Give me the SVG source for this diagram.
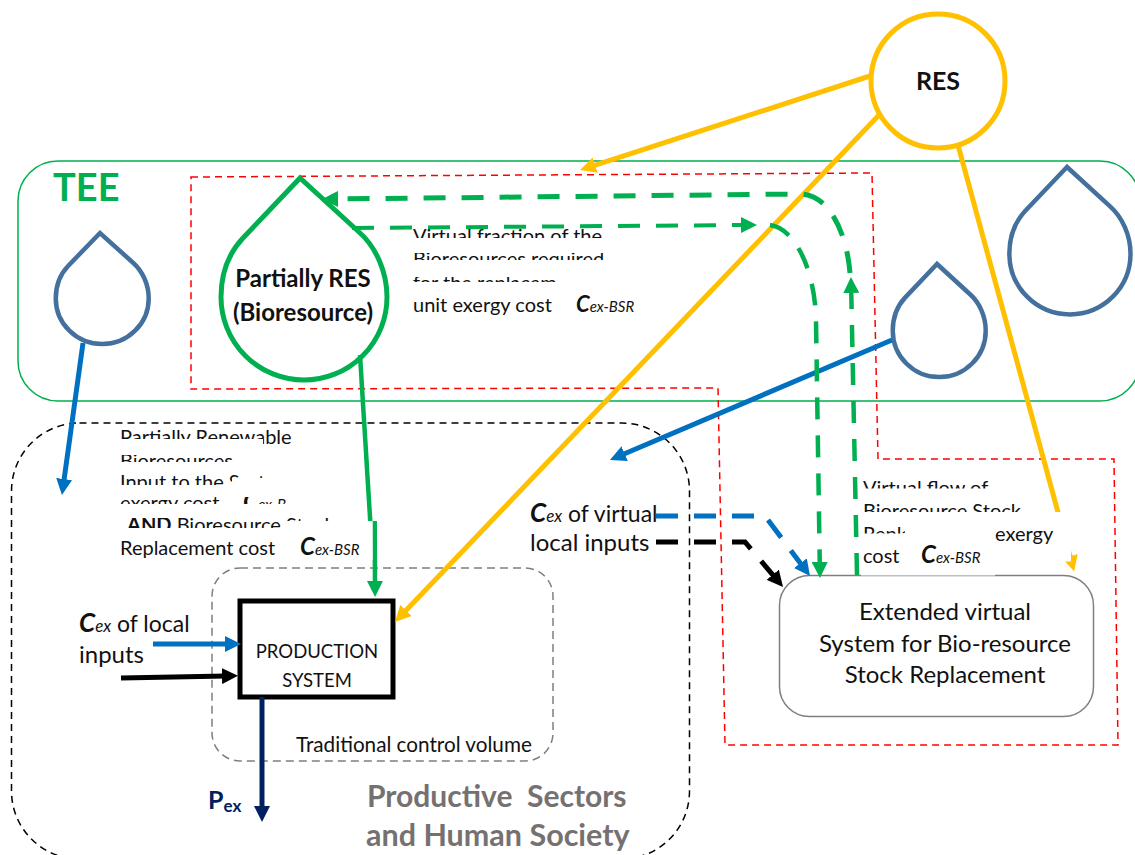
<svg xmlns="http://www.w3.org/2000/svg" width="1135" height="855" viewBox="0 0 1135 855">
<style>
text{font-family:Lato,"Open Sans","Liberation Sans",sans-serif;fill:#111}
.t{font-size:20px}.m{font-size:24px}.b{font-weight:700}
.c{font-weight:700;font-style:italic}.s{font-style:italic}
.line{fill:none;stroke-linejoin:miter}
.yel{stroke:#ffc000;stroke-width:5}.blu{stroke:#0070c0;stroke-width:5}.grn{stroke:#00b050;stroke-width:4.5}
.blk{stroke:#000;stroke-width:5}.nav{stroke:#002060;stroke-width:5}
.dsh{stroke-dasharray:22 16}
.drop{fill:#fff;stroke:#44709d;stroke-width:4.5;vector-effect:non-scaling-stroke}
.mask{fill:#fff}
</style>
<defs>
<path id="dropShape" class="drop" d="M0 0L-57 60C-72 76-79 97-79 119A83 83 0 0 0 87 119C87 94 76 69 59 54Z"/>
<marker id="aY" markerUnits="userSpaceOnUse" markerWidth="16" markerHeight="16" viewBox="0 0 16 16" refX="4" refY="8" orient="auto"><path d="M0 0L16 8L0 16Z" fill="#ffc000"/></marker>
<marker id="aB" markerUnits="userSpaceOnUse" markerWidth="16" markerHeight="16" viewBox="0 0 16 16" refX="4" refY="8" orient="auto"><path d="M0 0L16 8L0 16Z" fill="#0070c0"/></marker>
<marker id="aG" markerUnits="userSpaceOnUse" markerWidth="16" markerHeight="16" viewBox="0 0 16 16" refX="4" refY="8" orient="auto"><path d="M0 0L16 8L0 16Z" fill="#00b050"/></marker>
<marker id="aK" markerUnits="userSpaceOnUse" markerWidth="16" markerHeight="16" viewBox="0 0 16 16" refX="4" refY="8" orient="auto"><path d="M0 0L16 8L0 16Z" fill="#000"/></marker>
<marker id="aN" markerUnits="userSpaceOnUse" markerWidth="16" markerHeight="16" viewBox="0 0 16 16" refX="4" refY="8" orient="auto"><path d="M0 0L16 8L0 16Z" fill="#002060"/></marker>
</defs>
<g id="tee"><rect x="18" y="161" width="1122" height="240" rx="40" fill="none" stroke="#00b050" stroke-width="1.5"/><text x="53" y="201" class="b" font-size="38" style="fill:#00b050">TEE</text></g>
<path id="red-boundary" d="M191 177L872 173L878 459L1114 459L1118 745L725 745L718 388L191 389Z" fill="none" stroke="#f00" stroke-width="1.5" stroke-dasharray="7 5"/>
<rect id="society-boundary" x="11.500" y="423" width="678" height="436" rx="68" fill="none" stroke="#000" stroke-width="1.500" stroke-dasharray="7 5"/>
<rect id="control-volume" x="212" y="568" width="341" height="193" rx="28" fill="none" stroke="#7f7f7f" stroke-width="1.500" stroke-dasharray="8 5"/>
<g id="drop-left"><use href="#dropShape" transform="translate(100 233) scale(.56 .55)"/></g>
<g id="drop-right"><use href="#dropShape" transform="translate(1067 167) scale(.73)"/></g>
<g id="drop-mid"><use href="#dropShape" transform="translate(937 264) scale(.56)"/></g>
<g id="partial-res"><path d="M300 178L243 238C228 254 221 275 221 297A83 83 0 0 0 387 297C387 272 376 247 359 232Z" fill="#fff" stroke="#00b050" stroke-width="5"/></g>
<g id="res"><circle cx="938" cy="81" r="67" fill="#fff" stroke="#ffc000" stroke-width="5"/></g>
<g id="production"><rect x="240" y="601" width="153" height="96" fill="#fff" stroke="#000" stroke-width="5"/></g>
<g id="extended"><rect x="779.500" y="575.500" width="314" height="141" rx="30" fill="#fff" stroke="#7f7f7f" stroke-width="1.500"/></g>
<g id="connectors">
<path class="line yel" d="M870 76L591.400 166.300" marker-end="url(#aY)"/>
<path class="line yel" d="M880 114L403.300 613.300" marker-end="url(#aY)"/>
<path class="line yel" d="M958 145L1071 560" marker-end="url(#aY)"/>
<path class="line blu" d="M83 343L63.600 483" marker-end="url(#aB)"/>
<path class="line blu" d="M892 340L621 455.300" marker-end="url(#aB)"/>
<path class="line grn" d="M360 355L370.300 522"/>
<path class="line grn" d="M374.700 521L375 585" marker-end="url(#aG)"/>
<path class="line blu" d="M153 644L229 644" marker-end="url(#aB)"/>
<path class="line blk" d="M121 678L226 676" marker-end="url(#aK)"/>
<path class="line nav" d="M262 697L262 810" marker-end="url(#aN)"/>
<path class="line blu dsh" d="M656 516L765 516L802.800 566.400" marker-end="url(#aB)"/>
<path class="line blk dsh" d="M656 542L745 542L775.300 577.800" marker-end="url(#aK)"/>
<path class="line grn dsh" d="M857 575L851.200 289" marker-end="url(#aG)"/>
<path class="line grn dsh" d="M850 273C847 235 830 194 800 194L334 199" style="stroke-width:5" marker-end="url(#aG)"/>
<path class="line grn dsh" d="M352 228L745 225" style="stroke-width:4" marker-end="url(#aG)"/>
<path class="line grn dsh" d="M770 225C795 228 815 270 816 320L819.800 566" marker-end="url(#aG)"/>
</g>
<g id="covered-notes" class="t">
<text x="120" y="444">Partially Renewable</text><text x="120" y="468">Bioresources</text><text x="120" y="489">Input to the System</text>
<text x="120" y="510">exergy cost</text><text x="243" y="510"><tspan class="c" font-size="24">C</tspan><tspan class="s" font-size="15">ex-B</tspan></text>
<text x="127" y="532"><tspan class="b">AND</tspan> Bioresource Stock</text>
<text x="413" y="243">Virtual fraction of the</text><text x="413" y="266">Bioresources required</text><text x="413" y="290">for the replacement</text>
<text x="863" y="495">Virtual flow of</text><text x="863" y="518">Bioresource Stock</text><text x="863" y="541">Replacement</text>
</g>
<g id="masks" class="mask">
<rect x="118" y="439" width="145" height="16"/><rect x="118" y="462" width="190" height="13"/><rect x="232" y="478" width="80" height="8"/><rect x="118" y="485" width="190" height="12"/><rect x="118" y="504" width="200" height="14"/><rect x="285" y="521" width="87.500" height="7"/><rect x="118" y="528" width="254.500" height="32"/>
<rect x="411" y="238" width="220" height="15"/><rect x="411" y="260" width="220" height="17"/><rect x="411" y="282" width="220" height="15"/><rect x="557" y="270" width="70" height="14"/>
<rect x="861" y="488.500" width="170" height="14"/><rect x="861" y="512" width="210" height="14"/><rect x="905" y="526" width="166" height="8"/><rect x="861" y="533.500" width="134" height="42"/><rect x="995" y="533.500" width="76" height="28"/>
</g>
<g id="labels">
<text x="938" y="90" text-anchor="middle" class="b" font-size="25">RES</text>
<text x="303" y="287" text-anchor="middle" class="b m">Partially RES</text>
<text x="303" y="321" text-anchor="middle" class="b m">(Bioresource)</text>
<text x="413" y="312" class="t">unit exergy cost</text>
<text x="576" y="312"><tspan class="c" font-size="22">C</tspan><tspan class="s" font-size="15">ex-BSR</tspan></text>
<text x="120" y="555" class="t">Replacement cost</text>
<text x="300" y="555"><tspan class="c" font-size="24">C</tspan><tspan class="s" font-size="15">ex-BSR</tspan></text>
<text x="995" y="541" class="t">exergy</text>
<text x="863" y="563" class="t">cost</text>
<text x="921" y="563"><tspan class="c" font-size="24">C</tspan><tspan class="s" font-size="15">ex-BSR</tspan></text>
<text x="79" y="632" font-size="23"><tspan class="c" font-size="26">C</tspan><tspan class="s" font-size="17">ex</tspan> of local</text>
<text x="79" y="663" class="m">inputs</text>
<text x="530" y="522" font-size="23"><tspan class="c" font-size="26">C</tspan><tspan class="s" font-size="17">ex</tspan> of virtual</text>
<text x="530" y="551" class="m">local inputs</text>
<text x="317" y="658" text-anchor="middle" font-size="18.500">PRODUCTION</text>
<text x="317" y="687" text-anchor="middle" font-size="18.500">SYSTEM</text>
<text x="945" y="620" text-anchor="middle" class="m">Extended virtual</text>
<text x="945" y="652" text-anchor="middle" class="m">System for Bio-resource</text>
<text x="945" y="683" text-anchor="middle" class="m">Stock Replacement</text>
<text x="296" y="752" font-size="20.700">Traditional control volume</text>
<text x="208" y="809" class="b" style="fill:#002060" font-size="25">P<tspan font-size="17" dy="3">ex</tspan></text>
<text x="367" y="807" class="b" style="fill:#767171;white-space:pre" font-size="30">Productive  Sectors</text>
<text x="366" y="846" class="b" style="fill:#767171" font-size="30.500">and Human Society</text>
</g>
</svg>
